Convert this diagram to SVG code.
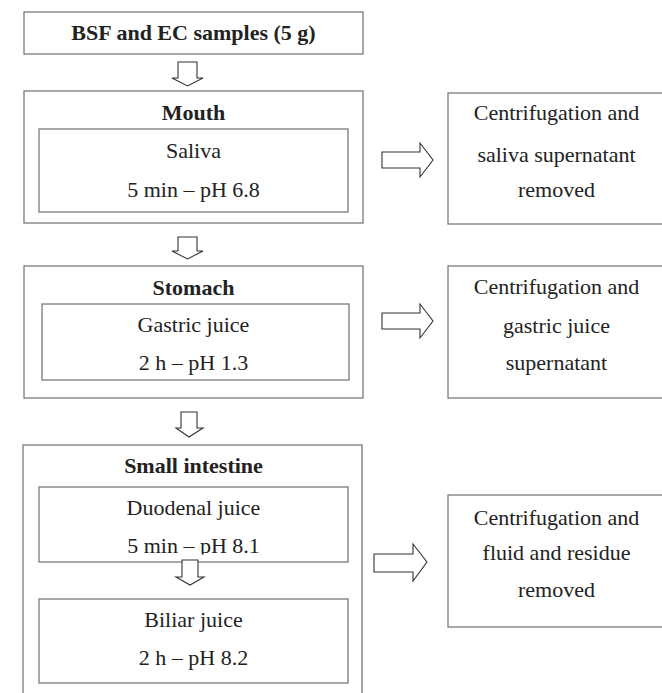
<svg xmlns="http://www.w3.org/2000/svg" width="662" height="693" viewBox="0 0 662 693">
<style>
.box{fill:#fff;stroke:#7a7a7a;stroke-width:1.3}
.inner{fill:none;stroke:#7a7a7a;stroke-width:1.3}
.t{font-family:"Liberation Serif","Times New Roman",serif;font-size:22px;fill:#222;text-anchor:middle}
.b{font-weight:bold}
.arr{fill:#fff;stroke:#333;stroke-width:1.1;stroke-linejoin:miter}
</style>
<defs>
<clipPath id="clipDuo"><rect x="0" y="480" width="662" height="74.5"/></clipPath>
</defs>
<rect width="662" height="693" fill="#fff"/>
<g id="samples">
<rect class="box" x="24" y="12" width="339" height="42"/>
<text class="t b" x="193.5" y="40">BSF and EC samples (5 g)</text>
</g>
<g id="mouth">
<rect class="box" x="24" y="91" width="339" height="132"/>
<text class="t b" x="193.5" y="120">Mouth</text>
<rect class="inner" x="39" y="129" width="309" height="83"/>
<text class="t" x="193.5" y="158">Saliva</text>
<text class="t" x="193.5" y="197">5 min – pH 6.8</text>
</g>
<g id="stomach">
<rect class="box" x="24" y="266" width="339" height="132"/>
<text class="t b" x="193.5" y="295">Stomach</text>
<rect class="inner" x="42" y="304" width="307" height="76"/>
<text class="t" x="193.5" y="332">Gastric juice</text>
<text class="t" x="193.5" y="370">2 h – pH 1.3</text>
</g>
<g id="intestine">
<rect class="box" x="23" y="445" width="339" height="260"/>
<text class="t b" x="193.5" y="473">Small intestine</text>
</g>
<g id="duodenal">
<rect class="inner" x="39" y="487" width="309" height="75"/>
<text class="t" x="193.5" y="515">Duodenal juice</text>
<text class="t" x="193.5" y="553" clip-path="url(#clipDuo)">5 min – pH 8.1</text>
</g>
<g id="biliar">
<rect class="inner" x="39" y="599" width="309" height="84"/>
<text class="t" x="193.5" y="627">Biliar juice</text>
<text class="t" x="193.5" y="665">2 h – pH 8.2</text>
</g>
<g id="centri1">
<rect class="box" x="448" y="93" width="230" height="131"/>
<text class="t" x="556.5" y="120">Centrifugation and</text>
<text class="t" x="556.5" y="162">saliva supernatant</text>
<text class="t" x="556.5" y="197">removed</text>
</g>
<g id="centri2">
<rect class="box" x="448" y="266" width="230" height="132"/>
<text class="t" x="556.5" y="294">Centrifugation and</text>
<text class="t" x="556.5" y="333">gastric juice</text>
<text class="t" x="556.5" y="370">supernatant</text>
</g>
<g id="centri3">
<rect class="box" x="448" y="495" width="230" height="132"/>
<text class="t" x="556.5" y="525">Centrifugation and</text>
<text class="t" x="556.5" y="560">fluid and residue</text>
<text class="t" x="556.5" y="597">removed</text>
</g>
<g id="connectors">
<polygon class="arr" points="178,62 197,62 197,78 203,78 187.5,86 172,78 178,78"/>
<polygon class="arr" points="178,237 197,237 197,251 203,251 187.5,259 172,251 178,251"/>
<polygon class="arr" points="181,412 197,412 197,428 203,428 189,437 176,428 181,428"/>
<polygon class="arr" points="182,560 198,560 198,577 204,577 190,585 176,577 182,577"/>
<polygon class="arr" points="382,152 420,152 420,143 433,160 420,177 420,168 382,168"/>
<polygon class="arr" points="382,313 420,313 420,304 433,321 420,338 420,329 382,329"/>
<polygon class="arr" points="374,554 413,554 413,544 427,562 413,581 413,572 374,572"/>
</g>
</svg>
